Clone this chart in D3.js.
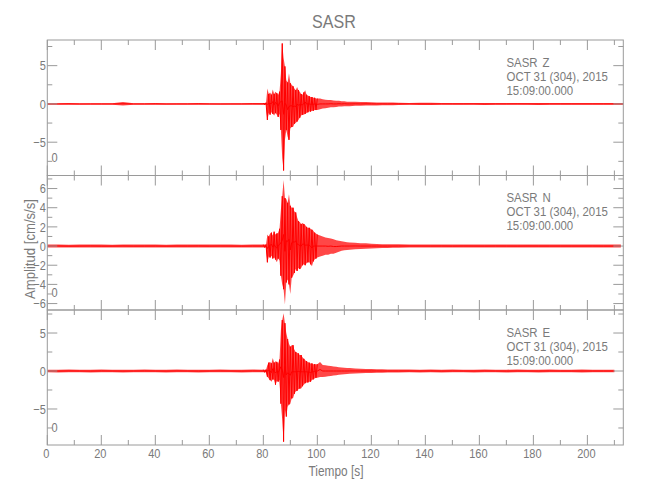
<!DOCTYPE html>
<html><head><meta charset="utf-8">
<script src="https://cdn.jsdelivr.net/npm/d3@7"></script>
<style>
body{margin:0;background:#fff}
svg{display:block}
text{font-family:"Liberation Sans","DejaVu Sans",sans-serif;fill:#7a7a7a}
</style>
</head><body>
<svg id="c" width="650" height="500"></svg>
<script>
// ---------------- data ----------------
const chartTitle = "SASR";
const station = "SASR";
const components = ["Z", "N", "E"];
const dateLine = "OCT 31 (304), 2015";
const timeLine = "15:09:00.000";
const xLabel = "Tiempo [s]";
const yLabel = "Amplitud [cm/s/s]";
const cornerLabel = "0";

const xTicks = [0, 20, 40, 60, 80, 100, 120, 140, 160, 180, 200];
const xMinorTicks = [10, 30, 50, 70, 90, 110, 130, 150, 170, 190, 210];
const yTicksZ = [-5, 0, 5];
const yMinorZ = [-7.5, -2.5, 2.5, 7.5];
const yTicksN = [-6, -4, -2, 0, 2, 4, 6];
const yMinorN = [-5, -3, -1, 1, 3, 5, 7];
const yTicksE = [-5, 0, 5];
const yMinorE = [-7.5, -2.5, 2.5, 7.5];

// time of each envelope sample (s)
const timeSec = [
  0,4,8,12,16,20,24,28,32,36,40,44,48,52,56,60,64,68,72,76,80,
  80.5,81,81.5,82,82.5,83,83.5,84,84.5,85,85.5,86,86.5,87,87.5,88,88.5,89,89.5,90,
  90.5,91,91.5,92,92.5,93,93.5,94,94.5,95,95.5,96,96.5,97,97.5,98,98.5,99,99.5,100,
  101,102,103,104,105,106,107,108,109,110,111,112,
  114,116,118,120,122,124,126,128,130,
  134,138,142,146,150,154,158,162,166,170,174,178,182,186,190,194,198,202,206,210,
  212.4,213.3
];

// Z component: upper / lower envelope (cm/s/s)
const zMax = [
  0.1,0.1,0.12,0.1,0.1,0.1,0.1,0.25,0.1,0.1,0.12,0.1,0.1,0.1,0.12,0.1,0.1,0.1,0.1,0.12,0.12,
  0.12,0.15,2.0,1.3,1.5,1.2,1.9,1.3,1.6,1.4,1.2,1.6,4.0,7.9,6.0,4.9,3.1,2.8,4.0,2.7,
  2.5,2.3,2.0,1.8,2.2,1.8,1.6,1.3,1.2,1.5,1.8,1.2,1.1,1.0,0.9,0.9,0.8,0.8,0.7,0.7,
  0.7,0.6,0.55,0.5,0.5,0.45,0.4,0.4,0.35,0.35,0.3,0.3,
  0.28,0.25,0.25,0.22,0.2,0.2,0.18,0.18,0.16,
  0.13,0.15,0.15,0.13,0.12,0.12,0.13,0.12,0.12,0.12,0.13,0.12,0.12,0.12,0.12,0.12,0.12,0.12,0.12,0.12,
  0.12,0.12
];
const zMin = [
  -0.1,-0.1,-0.1,-0.12,-0.1,-0.1,-0.1,-0.2,-0.1,-0.1,-0.1,-0.12,-0.1,-0.1,-0.1,-0.1,-0.12,-0.1,-0.1,-0.1,-0.12,
  -0.1,-0.12,-2.1,-1.2,-1.4,-1.1,-1.3,-1.5,-1.2,-1.4,-1.7,-1.3,-3.4,-7.1,-8.7,-4.7,-3.4,-4.3,-4.7,-3.2,
  -3.0,-3.0,-2.6,-2.5,-2.3,-2.1,-1.8,-1.5,-1.4,-1.4,-1.3,-1.2,-1.1,-1.0,-1.0,-0.9,-0.9,-0.8,-0.8,-0.8,
  -0.7,-0.6,-0.55,-0.5,-0.45,-0.45,-0.4,-0.35,-0.35,-0.3,-0.3,-0.3,
  -0.25,-0.25,-0.22,-0.2,-0.2,-0.18,-0.18,-0.16,-0.15,
  -0.12,-0.14,-0.15,-0.12,-0.12,-0.12,-0.12,-0.13,-0.12,-0.12,-0.12,-0.12,-0.13,-0.12,-0.12,-0.12,-0.12,-0.12,-0.12,-0.12,
  -0.12,-0.12
];

// N component
const nMax = [
  0.15,0.16,0.14,0.15,0.17,0.15,0.14,0.16,0.15,0.15,0.16,0.14,0.15,0.15,0.17,0.15,0.16,0.15,0.14,0.16,0.15,
  0.15,0.15,1.2,1.0,1.3,1.4,1.1,1.5,1.2,1.3,1.4,1.8,3.8,5.2,6.9,5.0,4.9,4.5,5.4,4.2,
  4.0,4.0,3.6,3.5,3.0,2.6,2.5,2.3,2.4,2.3,2.2,2.0,1.9,1.9,1.8,1.7,1.6,1.4,1.3,1.2,
  1.1,1.0,0.9,0.85,0.8,0.7,0.6,0.55,0.5,0.45,0.4,0.38,
  0.35,0.3,0.28,0.25,0.22,0.2,0.2,0.18,0.18,
  0.16,0.17,0.15,0.16,0.15,0.16,0.15,0.15,0.16,0.15,0.15,0.16,0.15,0.15,0.16,0.15,0.15,0.16,0.15,0.15,
  0.15,null
];
const nMin = [
  -0.15,-0.14,-0.16,-0.15,-0.15,-0.16,-0.15,-0.14,-0.16,-0.15,-0.15,-0.16,-0.14,-0.15,-0.15,-0.16,-0.15,-0.15,-0.16,-0.15,-0.15,
  -0.15,-0.15,-1.7,-1.1,-1.2,-1.0,-1.3,-1.2,-1.4,-1.7,-1.3,-1.5,-3.1,-4.0,-4.5,-6.1,-3.8,-3.5,-4.0,-5.0,
  -3.3,-3.1,-2.8,-2.4,-2.6,-2.3,-2.4,-2.3,-2.0,-1.9,-2.0,-1.8,-1.7,-1.7,-1.9,-2.1,-1.6,-1.4,-1.3,-1.2,
  -1.1,-1.0,-0.9,-0.9,-0.8,-0.8,-0.7,-0.6,-0.5,-0.45,-0.4,-0.38,
  -0.33,-0.3,-0.28,-0.25,-0.22,-0.2,-0.2,-0.18,-0.17,
  -0.15,-0.16,-0.15,-0.15,-0.16,-0.15,-0.15,-0.16,-0.15,-0.15,-0.16,-0.15,-0.15,-0.15,-0.16,-0.15,-0.15,-0.15,-0.16,-0.15,
  -0.15,null
];

// E component
const eMax = [
  0.18,0.17,0.19,0.18,0.18,0.2,0.18,0.17,0.18,0.19,0.18,0.18,0.2,0.18,0.17,0.18,0.19,0.18,0.18,0.2,0.18,
  0.18,0.18,0.8,1.1,1.2,1.0,1.7,1.1,1.3,1.2,1.0,1.5,5.4,6.7,7.6,6.3,5.0,4.2,3.6,3.2,
  3.4,3.4,2.8,2.5,2.4,2.3,2.1,2.1,1.8,1.6,1.4,1.3,1.2,1.1,1.0,1.0,0.9,0.9,0.9,0.9,
  1.2,0.8,0.75,0.7,0.65,0.6,0.55,0.5,0.45,0.42,0.4,0.38,
  0.33,0.3,0.28,0.26,0.24,0.22,0.21,0.2,0.2,
  0.19,0.18,0.2,0.18,0.19,0.18,0.18,0.2,0.18,0.18,0.19,0.18,0.18,0.2,0.18,0.18,0.19,0.18,0.18,0.18,
  null,null
];
const eMin = [
  -0.18,-0.19,-0.17,-0.18,-0.2,-0.18,-0.18,-0.19,-0.18,-0.17,-0.18,-0.2,-0.18,-0.18,-0.19,-0.18,-0.17,-0.18,-0.2,-0.18,-0.18,
  -0.18,-0.18,-0.75,-1.0,-1.2,-1.4,-1.1,-1.2,-1.8,-1.3,-1.4,-1.2,-4.3,-6.4,-9.3,-5.1,-6.0,-4.7,-4.4,-4.3,
  -3.6,-3.6,-3.0,-2.7,-2.6,-2.4,-2.3,-2.3,-2.0,-1.8,-1.6,-1.5,-1.5,-1.4,-1.4,-1.2,-1.1,-1.0,-0.9,-0.9,
  -0.8,-0.8,-0.75,-0.7,-0.65,-0.6,-0.55,-0.5,-0.45,-0.42,-0.4,-0.36,
  -0.32,-0.3,-0.27,-0.25,-0.23,-0.22,-0.21,-0.2,-0.2,
  -0.18,-0.19,-0.18,-0.2,-0.18,-0.18,-0.19,-0.18,-0.18,-0.2,-0.18,-0.18,-0.19,-0.18,-0.18,-0.18,-0.19,-0.18,-0.18,-0.18,
  null,null
];

// ---------------- drawing ----------------
const svg = d3.select("#c");
const left = 47.3, right = 623.3;
const x = d3.scaleLinear().domain([0, 213.3]).range([left, right]);

// narrow text: measure a reference line and derive horizontal squeeze
const FS = 13.5;
const probe = svg.append("text").attr("font-size", FS).text(dateLine);
const SX = 101.5 / probe.node().getComputedTextLength();
probe.remove();

function label(parent, px, py, s, o = {}) {
  const fs = o.fs || FS;
  const g = parent.append("g")
    .attr("transform", `translate(${px},${py})${o.rot ? " rotate(" + o.rot + ")" : ""} scale(${SX},1)`);
  const t = g.append("text").attr("font-size", fs).attr("text-anchor", o.anchor || "start");
  if (o.dy) t.attr("dy", o.dy);
  t.text(s);
  return t;
}

const panels = [
  {comp: components[0], max: zMax, min: zMin, dom: [-9.35, 8.35], top: 40, bottom: 175.5, major: yTicksZ, minor: yMinorZ},
  {comp: components[1], max: nMax, min: nMin, dom: [-6.67, 7.36], top: 175.5, bottom: 310, major: yTicksN, minor: yMinorN},
  {comp: components[2], max: eMax, min: eMin, dom: [-9.74, 8.03], top: 310, bottom: 445, major: yTicksE, minor: yMinorE}
];

const axisColor = "#9a9a9a";
const majorLen = 10, minorLen = 5;
const idx = d3.range(timeSec.length);
const dense = i => (i + 1 < timeSec.length && timeSec[i + 1] - timeSec[i] <= 0.5) ||
                   (i > 0 && timeSec[i] - timeSec[i - 1] <= 0.5);
const fmt = d3.format("");

panels.forEach((p, pi) => {
  const y = d3.scaleLinear().domain(p.dom).range([p.bottom, p.top]);
  const g = svg.append("g");
  const clipId = "clip" + pi;
  svg.append("clipPath").attr("id", clipId)
    .append("rect").attr("x", left).attr("y", p.top).attr("width", right - left).attr("height", p.bottom - p.top);

  const defined = i => p.max[i] != null && p.min[i] != null;

  // envelope band
  const area = d3.area().defined(defined)
    .x(i => x(timeSec[i])).y0(i => y(p.min[i])).y1(i => y(p.max[i]));
  g.append("path").attr("clip-path", `url(#${clipId})`)
    .attr("d", area(idx)).attr("fill", "#ff0000").attr("fill-opacity", 0.72);

  // oscillation between envelope extremes in the densely sampled part
  const zig = d3.line().defined(i => defined(i) && dense(i))
    .x(i => x(timeSec[i])).y(i => y(i % 2 ? p.min[i] : p.max[i]));
  g.append("path").attr("clip-path", `url(#${clipId})`)
    .attr("d", zig(idx)).attr("fill", "none").attr("stroke", "#ff0000").attr("stroke-width", 1);

  // zero-mean trace line
  const mid = d3.line().defined(defined).x(i => x(timeSec[i])).y(i => y((p.max[i] + p.min[i]) / 2));
  g.append("path").attr("clip-path", `url(#${clipId})`)
    .attr("d", mid(idx)).attr("fill", "none").attr("stroke", "#ff0000").attr("stroke-width", 1);

  // frame
  g.append("rect").attr("x", left).attr("y", p.top).attr("width", right - left).attr("height", p.bottom - p.top)
    .attr("fill", "none").attr("stroke", axisColor).attr("stroke-width", 1);

  // y ticks (inward on both sides)
  const yt = (v, len) => {
    g.append("line").attr("x1", left).attr("x2", left + len).attr("y1", y(v)).attr("y2", y(v)).attr("stroke", axisColor);
    g.append("line").attr("x1", right).attr("x2", right - len).attr("y1", y(v)).attr("y2", y(v)).attr("stroke", axisColor);
  };
  p.major.forEach(v => yt(v, majorLen));
  p.minor.filter(v => v > p.dom[0] && v < p.dom[1]).forEach(v => yt(v, minorLen));

  // y tick labels
  p.major.forEach(v => label(g, left - 1.5, y(v), fmt(v), {anchor: "end", dy: "0.36em", fs: 13}));

  // x ticks (inward on top and bottom)
  const xt = (v, len) => {
    g.append("line").attr("x1", x(v)).attr("x2", x(v)).attr("y1", p.top).attr("y2", p.top + len).attr("stroke", axisColor);
    g.append("line").attr("x1", x(v)).attr("x2", x(v)).attr("y1", p.bottom).attr("y2", p.bottom - len).attr("stroke", axisColor);
  };
  xTicks.forEach(v => xt(v, majorLen));
  xMinorTicks.forEach(v => xt(v, minorLen));

  // corner label
  label(g, 51.5, p.bottom - 13.5, cornerLabel, {fs: 13});

  // annotation
  const ax = 506.5;
  label(g, ax, p.top + 26.5, station);
  label(g, ax + 36, p.top + 26.5, p.comp);
  label(g, ax, p.top + 40.5, dateLine);
  label(g, ax, p.top + 54.5, timeLine);
});

// x tick labels (bottom)
xTicks.forEach(v => label(svg, x(v) - 1, 458, String(v), {anchor: "middle", fs: 13}));

// titles
label(svg, 334, 28, chartTitle, {anchor: "middle", fs: 19});
label(svg, 336, 476, xLabel, {anchor: "middle", fs: 14});
label(svg, 35, 249, yLabel, {anchor: "middle", fs: 15.5, rot: -90});
</script>
</body></html>
